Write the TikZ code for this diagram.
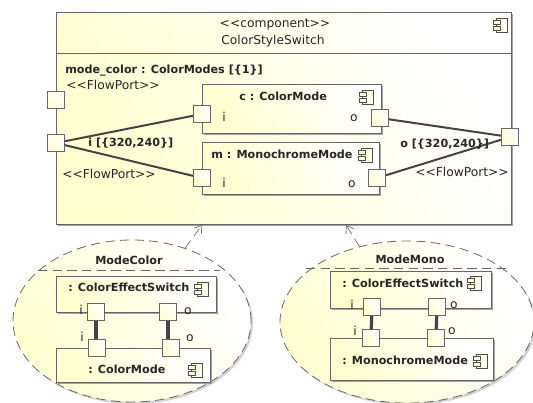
\documentclass[tikz,border=0pt]{standalone}
\usepackage{fontspec}
\setmainfont{DejaVu Sans}
\usetikzlibrary{shapes.geometric,shadows,arrows.meta}
\definecolor{linegray}{HTML}{666666}
\definecolor{wiregray}{HTML}{444444}
\definecolor{paleyellow}{HTML}{FFFFD0}
\tikzset{
  paleshade/.style={left color=paleyellow,right color=white,shading angle=120},
  shadowed/.style={drop shadow={shadow xshift=1.5pt,shadow yshift=-1.5pt,fill=black!40,opacity=.9}},
  softshadow/.style={drop shadow={shadow xshift=1.5pt,shadow yshift=-1.5pt,fill=black!25,opacity=.7}},
  compbox/.style={draw=linegray,line width=.7pt,paleshade,shadowed,inner sep=0pt},
  collab/.style={ellipse,draw=linegray,dash pattern=on 7pt off 4pt,line width=.6pt,paleshade,softshadow,inner sep=0pt},
  port/.style={rectangle,draw=linegray,line width=.8pt,paleshade,inner sep=0pt,minimum size=12.75pt},
  wire/.style={draw=wiregray,line width=1.5pt},
  binding/.style={draw=wiregray,line width=2.4pt},
  realize/.style={draw=linegray,dash pattern=on 7pt off 4pt,line width=.5pt,-{Straight Barb[length=5pt,width=7pt]}},
  txt/.style={inner sep=0pt,font=\fontsize{9.2}{11}\selectfont,text=black!85},
  btxt/.style={inner sep=0pt,font=\fontsize{8.4}{11}\selectfont\bfseries,text=black!85},
  compicon/.pic={
    \draw[draw=black!70,line width=.55pt,fill=white!60!paleyellow] (-4,-7) rectangle (7,7);
    \draw[draw=black!70,line width=.55pt,fill=paleyellow] (-7,-5) rectangle (0,-1);
    \draw[draw=black!70,line width=.55pt,fill=paleyellow] (-7,1) rectangle (0,5);
  }
}
\begin{document}
\begin{tikzpicture}[x=.75pt,y=-.75pt]
    %initialisation
    \clip (0,0) rectangle (533,403);
    %definitions
    \coordinate (tipcolor) at (202,225);
    \coordinate (tipmono) at (346,225);
    %drawing
    \node[compbox,minimum width=341.25pt,minimum height=159pt] (switch) at (283.5,118) {};
    \draw[draw=linegray,line width=.6pt] (56,53) -- (511,53);
    \node[compbox,minimum width=134.25pt,minimum height=36.75pt] (cbox) at (291.5,108.5) {};
    \node[compbox,minimum width=132.75pt,minimum height=39pt] (mbox) at (290.5,168) {};
    \node[port] (pmode) at (56,100) {};
    \node[port] (pin) at (56,143) {};
    \node[port] (pout) at (510,137) {};
    \node[port] (pci) at (202,114) {};
    \node[port] (pco) at (380,118) {};
    \node[port] (pmi) at (202,178) {};
    \node[port] (pmo) at (377,178) {};
    \draw[wire] (pin) -- (pci);
    \draw[wire] (pin) -- (pmi);
    \draw[wire] (pco) -- (pout);
    \draw[wire] (pmo) -- (pout);
    %left collaboration
    \node[collab,minimum width=178.5pt,minimum height=121.5pt] (modecolor) at (132,321) {};
    \draw[draw=linegray,dash pattern=on 7pt off 4pt,line width=.6pt] (38,270) -- (220,270);
    \node[compbox,minimum width=120pt,minimum height=27pt] (cswitch) at (136,294) {};
    \node[compbox,minimum width=115.5pt,minimum height=25.5pt] (cmode) at (133,365) {};
    \node[port] (csi) at (96,312) {};
    \node[port] (cso) at (168,312) {};
    \node[port] (cmi) at (97,348) {};
    \node[port] (cmo) at (171,348) {};
    \draw[binding] (csi) -- (csi |- cmi.north);
    \draw[binding] (cso) -- (cso |- cmo.north);
    %right collaboration
    \node[collab,minimum width=190.5pt,minimum height=121.5pt] (modemono) at (407,322) {};
    \draw[draw=linegray,dash pattern=on 7pt off 4pt,line width=.6pt] (306,268) -- (511,268);
    \node[compbox,minimum width=120.75pt,minimum height=27.75pt] (mswitch) at (410.5,289.5) {};
    \node[compbox,minimum width=122.25pt,minimum height=31.5pt] (mmode) at (411.5,359) {};
    \node[port] (msi) at (372,307) {};
    \node[port] (mso) at (437,307) {};
    \node[port] (mmi) at (371,338) {};
    \node[port] (mmo) at (436,338) {};
    \draw[binding] (msi) -- (mmi);
    \draw[binding] (mso) -- (mmo);
    %realisation arrows
    \draw[realize] (modecolor) -- (tipcolor);
    \draw[realize] (modemono) -- (tipmono);
    %icons
    \pic at (500,25) {compicon};
    \pic at (366,97) {compicon};
    \pic at (365,155) {compicon};
    \pic at (201,289) {compicon};
    \pic at (195,370) {compicon};
    \pic at (474,283) {compicon};
    \pic at (480,361) {compicon};
    %label
    \node[txt] (tstereo) at (275,24) {<{}<component>{}>};
    \node[txt] (tname) at (273,41) {ColorStyleSwitch};
    \node[btxt,anchor=west] (tmode) at (65,71) {mode\_color : ColorModes [\{1\}]};
    \node[txt,anchor=west] (tflowa) at (66,85) {<{}<FlowPort>{}>};
    \node[btxt,anchor=west] (tin) at (88,143) {i [\{320,240\}]};
    \node[txt,anchor=west] (tflowb) at (62,174) {<{}<FlowPort>{}>};
    \node[btxt,anchor=west] (tc) at (239,96) {c : ColorMode};
    \node[txt] (tci) at (224,117) {i};
    \node[txt] (tco) at (354,118) {o};
    \node[btxt,anchor=west] (tm) at (211,154) {m : MonochromeMode};
    \node[txt] (tmi) at (224,183) {i};
    \node[txt] (tmo) at (352,184) {o};
    \node[btxt,anchor=west] (tout) at (400,144) {o [\{320,240\}]};
    \node[txt,anchor=east] (tflowc) at (509,172) {<{}<FlowPort>{}>};
    \node[btxt] (tcolor) at (129,260) {ModeColor};
    \node[btxt,anchor=west] (tcs) at (68,287) {: ColorEffectSwitch};
    \node[txt] (tcsi) at (81,310) {i};
    \node[txt] (tcso) at (188,311) {o};
    \node[txt] (tcmi) at (82,337) {i};
    \node[txt] (tcmo) at (190,338) {o};
    \node[btxt,anchor=west] (tcm) at (88,369) {: ColorMode};
    \node[btxt] (tmono) at (410,259) {ModeMono};
    \node[btxt,anchor=west] (tms) at (342,283) {: ColorEffectSwitch};
    \node[txt] (tmsi) at (352,305) {i};
    \node[txt] (tmso) at (454,305) {o};
    \node[txt] (tmmi) at (355,331) {i};
    \node[txt] (tmmo) at (452,331) {o};
    \node[btxt,anchor=west] (tmm) at (342,360) {: MonochromeMode};
\end{tikzpicture}
\end{document}
